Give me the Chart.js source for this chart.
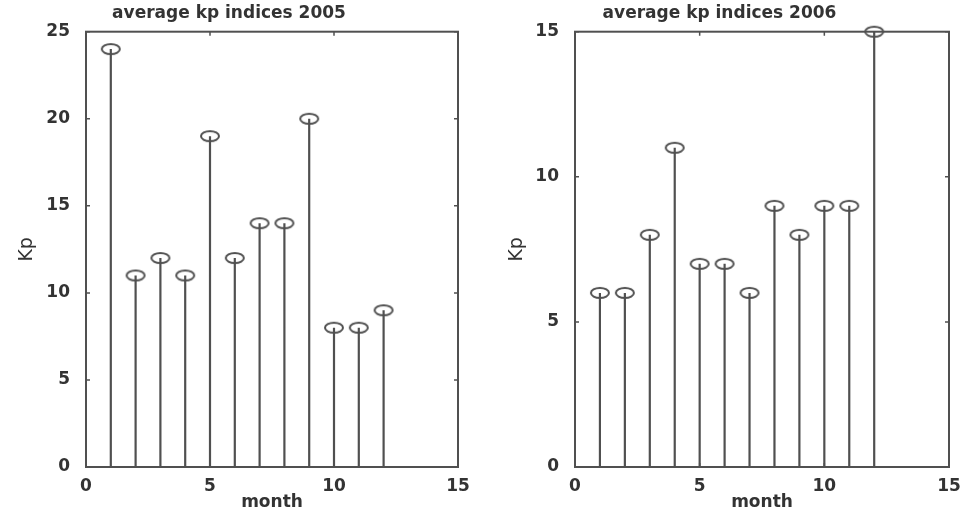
<!DOCTYPE html>
<html>
<head>
<meta charset="utf-8">
<script src="https://cdn.jsdelivr.net/npm/chart.js@4/dist/chart.umd.min.js"></script>
<style>
  html, body { margin: 0; padding: 0; background: #fff; }
  .wrap { position: absolute; top: 0; height: 516px; }
  #w1 { left: 0; width: 480px; }
  #w2 { left: 490px; width: 478px; }
</style>
</head>
<body>
<div class="wrap" id="w1"><canvas id="c1"></canvas></div>
<div class="wrap" id="w2"><canvas id="c2"></canvas></div>
<script>
// donnees
const months = [1, 2, 3, 4, 5, 6, 7, 8, 9, 10, 11, 12];
const kp2005 = [24, 11, 12, 11, 19, 12, 14, 14, 20, 8, 8, 9];
const kp2006 = [6, 6, 8, 11, 7, 7, 6, 9, 8, 9, 9, 15];
const xTicks = [0, 5, 10, 15];
const yTicks2005 = [0, 5, 10, 15, 20, 25];
const yTicks2006 = [0, 5, 10, 15];

const ink = '#505050';
const txt = '#333';
const fontFam = '"DejaVu Sans", Arial, sans-serif';

// marqueur ovale comme matlab (un peu ecrase)
function ovalMarker() {
    const c = document.createElement('canvas');
    c.width = 22; c.height = 14;
    const g = c.getContext('2d');
    g.strokeStyle = ink;
    g.lineWidth = 2;
    g.beginPath();
    g.ellipse(11, 7, 9, 5, 0, 0, Math.PI * 2);
    g.stroke();
    return c;
}
const marker = ovalMarker();

// petits traits vers l'interieur sur les 4 cotes + cadre
const framePlugin = {
    id: 'frame',
    afterDatasetsDraw(chart) {
        const { ctx, chartArea: a, scales } = chart;
        ctx.save();
        ctx.strokeStyle = ink;
        ctx.lineWidth = 2;
        ctx.strokeRect(a.left, a.top, a.right - a.left, a.bottom - a.top);
        ctx.lineWidth = 1.5;
        ctx.beginPath();
        scales.x.ticks.forEach(t => {
            const px = scales.x.getPixelForValue(t.value);
            ctx.moveTo(px, a.bottom); ctx.lineTo(px, a.bottom - 4);
            ctx.moveTo(px, a.top); ctx.lineTo(px, a.top + 4);
        });
        scales.y.ticks.forEach(t => {
            const py = scales.y.getPixelForValue(t.value);
            ctx.moveTo(a.left, py); ctx.lineTo(a.left + 4, py);
            ctx.moveTo(a.right, py); ctx.lineTo(a.right - 4, py);
        });
        ctx.stroke();
        ctx.restore();
    }
};

function makeStemChart(id, title, values, yTicks, yWidth, padRight) {
    const stems = months.flatMap((m, i) => [
        { x: m, y: 0 }, { x: m, y: values[i] }, { x: m, y: null }
    ]);
    const heads = months.map((m, i) => ({ x: m, y: values[i] }));
    const yMax = yTicks[yTicks.length - 1];
    const tickFont = { family: fontFam, size: 17, weight: 'bold' };

    return new Chart(document.getElementById(id), {
        type: 'scatter',
        data: {
            datasets: [
                {
                    data: stems, showLine: true, spanGaps: false,
                    borderColor: ink, borderWidth: 2.2, pointRadius: 0
                },
                {
                    data: heads, pointStyle: marker, pointRadius: 9,
                    clip: false
                }
            ]
        },
        options: {
            responsive: true,
            maintainAspectRatio: false,
            animation: false,
            layout: { padding: { left: 0, right: padRight, top: 0, bottom: 0 } },
            plugins: {
                legend: { display: false },
                tooltip: { enabled: false },
                title: {
                    display: true, text: title, color: txt,
                    font: { family: fontFam, size: 17, weight: 'bold', lineHeight: 1.1 },
                    padding: { top: 4, bottom: 9 }
                }
            },
            scales: {
                x: {
                    type: 'linear', min: 0, max: 15,
                    afterBuildTicks: s => { s.ticks = xTicks.map(v => ({ value: v })); },
                    grid: { display: false },
                    border: { display: false },
                    ticks: { color: txt, font: tickFont, padding: 1, maxRotation: 0 },
                    title: {
                        display: true, text: 'month', color: txt,
                        font: { family: fontFam, size: 17, weight: 'bold' },
                        padding: { top: 0, bottom: 3 }
                    },
                    afterFit: s => { s.height = 49; }
                },
                y: {
                    type: 'linear', min: 0, max: yMax,
                    afterBuildTicks: s => { s.ticks = yTicks.map(v => ({ value: v })); },
                    grid: { display: false },
                    border: { display: false },
                    ticks: { color: txt, font: tickFont, padding: 8 },
                    title: {
                        display: true, text: 'Kp', color: txt,
                        font: { family: fontFam, size: 19 },
                        padding: { top: 16, bottom: 0 }
                    },
                    afterFit: s => { s.width = yWidth; }
                }
            }
        },
        plugins: [framePlugin]
    });
}

makeStemChart('c1', 'average kp indices 2005', kp2005, yTicks2005, 86, 22);
makeStemChart('c2', 'average kp indices 2006', kp2006, yTicks2006, 85, 19);
</script>
</body>
</html>
